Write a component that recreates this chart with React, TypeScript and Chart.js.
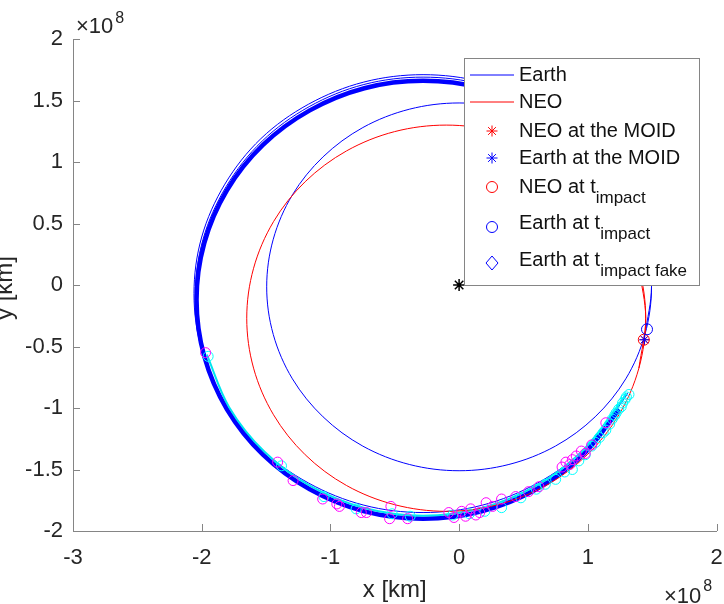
import React, { useEffect, useRef } from 'react';
import { Chart, registerables } from 'chart.js';

Chart.register(...registerables);

// values in units of 1e8 km
const xTicks = [-3, -2, -1, 0, 1, 2];
const yTicks = [-2, -1.5, -1, -0.5, 0, 0.5, 1, 1.5, 2];

const earthOrbit = [
  [1.444, -0.402], [1.495, -0.015], [1.444, 0.372], [1.295, 0.733], [1.057, 1.042], [0.748, 1.28],
  [0.387, 1.429], [0, 1.48], [-0.387, 1.429], [-0.748, 1.28], [-1.057, 1.042], [-1.295, 0.733],
  [-1.444, 0.372], [-1.495, -0.015], [-1.444, -0.402], [-1.295, -0.763], [-1.057, -1.072],
  [-0.748, -1.31], [-0.387, -1.459], [0, -1.51], [0.387, -1.459], [0.748, -1.31], [1.057, -1.072],
  [1.295, -0.763], [1.444, -0.402], [1.495, -0.015], [1.444, 0.372],
];

const neoOrbit = [
  [1.397, -0.676], [1.45, -0.27], [1.397, 0.136], [1.242, 0.515], [0.996, 0.84], [0.675, 1.09],
  [0.301, 1.247], [-0.1, 1.3], [-0.501, 1.247], [-0.875, 1.09], [-1.196, 0.84], [-1.442, 0.515],
  [-1.597, 0.136], [-1.65, -0.27], [-1.597, -0.676], [-1.442, -1.055], [-1.196, -1.38],
  [-0.875, -1.63], [-0.501, -1.786], [-0.1, -1.84], [0.301, -1.786], [0.675, -1.63],
  [0.996, -1.38], [1.242, -1.055], [1.397, -0.676], [1.45, -0.27], [1.397, 0.136],
];

const bandThick = [
  [0.6, 1.42], [0.176, 1.6], [-0.28, 1.66], [-0.736, 1.6], [-1.16, 1.42], [-1.524, 1.139],
  [-1.804, 0.77], [-1.98, 0.341], [-2.04, -0.12], [-1.98, -0.581], [-1.804, -1.01], [-1.524, -1.379],
  [-1.16, -1.661], [-0.736, -1.84], [-0.28, -1.9], [0.176, -1.84], [0.6, -1.661], [0.964, -1.379],
  [1.244, -1.01],
];

const bandOuter = [
  [0.61, 1.47], [0.18, 1.65], [-0.28, 1.71], [-0.74, 1.65], [-1.17, 1.47], [-1.54, 1.19],
  [-1.82, 0.82], [-2.0, 0.39], [-2.06, -0.07], [-2.0, -0.53], [-1.82, -0.96], [-1.54, -1.33],
  [-1.17, -1.61], [-0.74, -1.79], [-0.28, -1.85], [0.18, -1.79], [0.61, -1.61], [0.98, -1.33],
  [1.26, -0.96], [1.31, -0.88],
];

const bandMiddle = [
  [0.6, 1.45], [0.18, 1.63], [-0.28, 1.69], [-0.74, 1.63], [-1.165, 1.45], [-1.53, 1.17],
  [-1.81, 0.8], [-1.99, 0.37], [-2.05, -0.09], [-1.99, -0.55],
];

const cyanTrack = [
  [-1.96, -0.566], [-1.787, -0.993], [-1.51, -1.358], [-1.15, -1.638], [-0.73, -1.815],
  [-0.28, -1.875], [0.17, -1.815], [0.59, -1.638], [0.95, -1.358], [1.227, -0.993], [1.3, -0.88],
];

const magentaCircles = [
  [-1.97, -0.55], [-1.41, -1.44], [-1.29, -1.59], [-1.06, -1.74], [-0.95, -1.78], [-0.93, -1.8],
  [-0.76, -1.85], [-0.72, -1.85], [-0.53, -1.8], [-0.54, -1.9], [-0.4, -1.9], [-0.08, -1.85],
  [-0.04, -1.89], [0.02, -1.84], [0.05, -1.88], [0.09, -1.82], [0.13, -1.87], [0.16, -1.85],
  [0.21, -1.77], [0.26, -1.8], [0.33, -1.74], [0.44, -1.72], [0.54, -1.68], [0.62, -1.64],
  [0.8, -1.48], [0.83, -1.44], [0.86, -1.46], [0.88, -1.42], [0.91, -1.39], [0.95, -1.35],
  [0.98, -1.37], [1.03, -1.3], [1.14, -1.12],
];

const cyanCircles = [
  [-1.95, -0.58], [-1.38, -1.47], [-1.05, -1.72], [-0.8, -1.82], [-0.52, -1.86], [-0.38, -1.88],
  [-0.05, -1.87], [0.08, -1.86], [0.2, -1.84], [0.33, -1.81], [0.48, -1.73], [0.6, -1.66],
  [0.67, -1.62], [0.75, -1.58], [0.82, -1.52], [0.88, -1.5], [0.93, -1.43], [0.98, -1.38],
  [1.03, -1.31], [1.06, -1.28], [1.09, -1.24], [1.12, -1.2], [1.14, -1.18], [1.17, -1.13],
  [1.19, -1.09], [1.21, -1.06], [1.22, -1.04], [1.24, -1.01], [1.26, -0.99], [1.27, -0.96],
  [1.29, -0.93], [1.3, -0.91], [1.32, -0.89],
];

const neoAtMoid = [[1.44, -0.445]];
const earthAtMoid = [[1.44, -0.445]];
const neoAtImpact = [[1.435, -0.445]];
const earthAtImpact = [[1.46, -0.36]];
const sun = [[0, 0]];

const legendItems = ['Earth', 'NEO', 'NEO at the MOID', 'Earth at the MOID', 'NEO at t', 'Earth at t', 'Earth at t'];
const legendSubs = ['', '', '', '', 'impact', 'impact', 'impact fake'];

const FONT = '"Liberation Sans", Arial, Helvetica, sans-serif';
const AXIS = '#858585';
const TEXT = '#262626';
const BLUE = '#0000ff';
const RED = '#ff0000';

const pts = (a: number[][]) => a.map(([x, y]) => ({ x, y }));

function drawStar(ctx: CanvasRenderingContext2D, x: number, y: number, r: number, color: string) {
  ctx.strokeStyle = color;
  ctx.lineWidth = 1;
  ctx.beginPath();
  for (let i = 0; i < 4; i++) {
    const a = (i * Math.PI) / 4;
    ctx.moveTo(x - r * Math.cos(a), y - r * Math.sin(a));
    ctx.lineTo(x + r * Math.cos(a), y + r * Math.sin(a));
  }
  ctx.stroke();
}

const decorPlugin = {
  id: 'decor',
  afterDraw(chart: any) {
    const ctx: CanvasRenderingContext2D = chart.ctx;
    const xs = chart.scales.x;
    const ys = chart.scales.y;
    const area = chart.chartArea;
    ctx.save();
    // inward ticks
    ctx.strokeStyle = AXIS;
    ctx.lineWidth = 1;
    ctx.beginPath();
    xTicks.forEach((v) => {
      const px = Math.round(xs.getPixelForValue(v)) + 0.5;
      ctx.moveTo(px, area.bottom);
      ctx.lineTo(px, area.bottom - 7);
    });
    yTicks.forEach((v) => {
      const py = Math.round(ys.getPixelForValue(v)) + 0.5;
      ctx.moveTo(area.left, py);
      ctx.lineTo(area.left + 7, py);
    });
    ctx.stroke();

    // axis titles
    ctx.fillStyle = TEXT;
    ctx.font = `24px ${FONT}`;
    ctx.textAlign = 'center';
    ctx.textBaseline = 'alphabetic';
    ctx.fillText('x [km]', (area.left + area.right) / 2, 597);
    ctx.save();
    ctx.translate(12, (area.top + area.bottom) / 2 + 3);
    ctx.rotate(-Math.PI / 2);
    ctx.fillText('y [km]', 0, 0);
    ctx.restore();

    // exponents
    ctx.textAlign = 'left';
    ctx.font = `22px ${FONT}`;
    ctx.fillText('\u00d710', 76, 33);
    let w = ctx.measureText('\u00d710').width;
    ctx.font = `16px ${FONT}`;
    ctx.fillText('8', 78 + w, 23);
    ctx.font = `22px ${FONT}`;
    ctx.fillText('\u00d710', 664, 603);
    w = ctx.measureText('\u00d710').width;
    ctx.font = `16px ${FONT}`;
    ctx.fillText('8', 666 + w, 591);

    // legend
    const lx = 464, ly = 58, lw = 235, lh = 227;
    ctx.fillStyle = '#ffffff';
    ctx.fillRect(lx, ly, lw, lh);
    ctx.strokeStyle = AXIS;
    ctx.lineWidth = 1;
    ctx.strokeRect(lx + 0.5, ly + 0.5, lw, lh);
    const rows = [75, 102, 131, 158, 187, 223, 260];
    const symY = [75, 102, 131, 158, 187, 227, 263];
    const sx = 492;
    ctx.lineWidth = 1;
    ctx.strokeStyle = BLUE;
    ctx.beginPath(); ctx.moveTo(470, symY[0]); ctx.lineTo(514, symY[0]); ctx.stroke();
    ctx.strokeStyle = RED;
    ctx.beginPath(); ctx.moveTo(470, symY[1]); ctx.lineTo(514, symY[1]); ctx.stroke();
    drawStar(ctx, sx, symY[2], 5.5, RED);
    drawStar(ctx, sx, symY[3], 5.5, BLUE);
    ctx.strokeStyle = RED;
    ctx.beginPath(); ctx.arc(sx, symY[4], 5.5, 0, Math.PI * 2); ctx.stroke();
    ctx.strokeStyle = BLUE;
    ctx.beginPath(); ctx.arc(sx, symY[5], 5.5, 0, Math.PI * 2); ctx.stroke();
    ctx.beginPath();
    ctx.moveTo(sx, symY[6] - 7); ctx.lineTo(sx + 6, symY[6]); ctx.lineTo(sx, symY[6] + 7); ctx.lineTo(sx - 6, symY[6]);
    ctx.closePath(); ctx.stroke();
    ctx.fillStyle = '#111111';
    ctx.textBaseline = 'middle';
    legendItems.forEach((t, i) => {
      ctx.font = `20px ${FONT}`;
      ctx.fillText(t, 519, rows[i]);
      if (legendSubs[i]) {
        const tw = ctx.measureText(t).width;
        ctx.font = `17px ${FONT}`;
        ctx.fillText(legendSubs[i], 519 + tw, rows[i] + 11);
      }
    });
    ctx.restore();
  },
};

export default function App() {
  const ref = useRef<HTMLCanvasElement | null>(null);
  useEffect(() => {
    if (!ref.current) return;
    const lineDs = (label: string, data: number[][], color: string, width: number, order: number) => ({
      type: 'scatter' as const,
      label,
      data: pts(data),
      showLine: true,
      borderColor: color,
      backgroundColor: color,
      borderWidth: width,
      pointRadius: 0,
      tension: 0.34,
      order,
    });
    const markDs = (label: string, data: number[][], color: string, style: string, r: number, order: number, bw = 1) => ({
      type: 'scatter' as const,
      label,
      data: pts(data),
      showLine: false,
      borderColor: color,
      backgroundColor: 'rgba(0,0,0,0)',
      pointStyle: style,
      pointRadius: r,
      pointBorderWidth: bw,
      borderWidth: bw,
      order,
    });
    const chart = new Chart(ref.current, {
      type: 'scatter',
      data: {
        datasets: [
          markDs('Sun', sun, '#000000', 'star', 6, 1, 1.5),
          markDs('Earth at t_impact', earthAtImpact, BLUE, 'circle', 5.5, 2),
          markDs('NEO at t_impact', neoAtImpact, RED, 'circle', 5.5, 3),
          markDs('Earth at the MOID', earthAtMoid, BLUE, 'star', 5, 4),
          markDs('NEO at the MOID', neoAtMoid, RED, 'star', 5, 5),
          markDs('magenta', magentaCircles, '#ff00ff', 'circle', 5, 6),
          markDs('cyan', cyanCircles, '#00ffff', 'circle', 5, 7),
          lineDs('NEO', neoOrbit, RED, 1, 8),
          lineDs('Earth', earthOrbit, BLUE, 1, 9),
          lineDs('cyanTrack', cyanTrack, '#00e5ee', 2, 10),
          lineDs('bandOuter', bandOuter, BLUE, 1, 11),
          lineDs('bandMiddle', bandMiddle, BLUE, 1, 12),
          lineDs('bandThick', bandThick, BLUE, 4.5, 13),
        ] as any,
      },
      options: {
        responsive: false,
        animation: false,
        events: [],
        layout: { padding: { top: 39, right: 6, left: 0, bottom: 0 } },
        elements: { line: { capBezierPoints: false } },
        plugins: { legend: { display: false }, tooltip: { enabled: false } },
        scales: {
          x: {
            type: 'linear',
            min: -3,
            max: 2,
            afterBuildTicks: (s: any) => { s.ticks = xTicks.map((v) => ({ value: v })); },
            afterFit: (s: any) => { s.height = 73; s.paddingLeft = 0; s.paddingRight = 0; },
            ticks: { font: { family: FONT, size: 22 }, color: TEXT, padding: 14, maxRotation: 0, autoSkip: false, callback: (v: any) => String(v) },
            grid: { display: true, drawOnChartArea: false, drawTicks: false, tickLength: 0 },
            border: { display: true, color: AXIS, width: 1 },
          },
          y: {
            type: 'linear',
            min: -2,
            max: 2,
            afterBuildTicks: (s: any) => { s.ticks = yTicks.map((v) => ({ value: v })); },
            afterFit: (s: any) => { s.width = 73; s.paddingTop = 0; s.paddingBottom = 0; },
            ticks: { font: { family: FONT, size: 22 }, color: TEXT, padding: 10, autoSkip: false, callback: (v: any) => String(v) },
            grid: { display: true, drawOnChartArea: false, drawTicks: false, tickLength: 0 },
            border: { display: true, color: AXIS, width: 1 },
          },
        },
      } as any,
      plugins: [decorPlugin],
    });
    return () => chart.destroy();
  }, []);
  return (
    <div style={{ position: 'fixed', left: 0, top: 0, width: 724, height: 604, background: '#fff' }}>
      <canvas ref={ref} width={724} height={604} style={{ width: 724, height: 604, display: 'block' }} />
    </div>
  );
}
